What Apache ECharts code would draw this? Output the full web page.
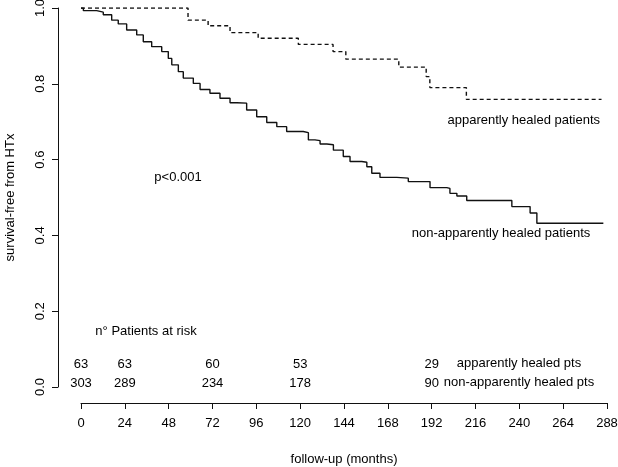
<!DOCTYPE html>
<html>
<head>
<meta charset="utf-8">
<script src="https://cdn.jsdelivr.net/npm/echarts@6/dist/echarts.min.js"></script>
<style>html,body{margin:0;padding:0;background:#fff}#c{width:618px;height:467px}</style>
</head>
<body>
<div id="c"></div>
<script>
// Apparently healed patients (dashed) – KM step points
const healedTime = [0, 58.6, 69.6, 81.6, 97, 119, 138, 145, 174, 189, 191, 211, 285];
const healedSurv = [1.0, 0.968, 0.953, 0.935, 0.920, 0.904, 0.885, 0.865, 0.844, 0.819, 0.790, 0.759, 0.759];

// Non-apparently healed patients (solid)
const nonTime = [0, 1.3, 8.6, 12.2, 16.8, 20.4, 25, 30.5, 34.1, 38.7, 44.2, 47.8, 49.7, 53.3, 56, 61.5, 65.2, 70.6, 76.1, 81.6, 85.3, 90.7, 96.2, 101.7, 107.2, 112.6, 121.7, 124.5, 128.1, 130.9, 134.6, 138.2, 143.6, 147.3, 153.7, 156.5, 159.2, 163.7, 172.9, 179.2, 191.1, 200.3, 202, 205.8, 211.2, 235.9, 245.9, 249.6, 286];
const nonSurv = [1.0, 0.993, 0.989, 0.982, 0.968, 0.958, 0.942, 0.929, 0.911, 0.898, 0.885, 0.867, 0.850, 0.832, 0.815, 0.801, 0.785, 0.775, 0.762, 0.750, 0.749, 0.731, 0.713, 0.698, 0.687, 0.674, 0.671, 0.652, 0.650, 0.641, 0.639, 0.625, 0.608, 0.595, 0.593, 0.581, 0.564, 0.553, 0.551, 0.542, 0.526, 0.524, 0.511, 0.504, 0.492, 0.476, 0.459, 0.432, 0.432];

// Numbers at risk
const riskTimes = [0, 24, 72, 120, 192];
const riskHealed = [63, 63, 60, 53, 29];
const riskNon = [303, 289, 234, 178, 90];
const riskRowY = [0.060, 0.010];

const xTicks = [0, 24, 48, 72, 96, 120, 144, 168, 192, 216, 240, 264, 288];
const yTicks = [0.0, 0.2, 0.4, 0.6, 0.8, 1.0];

const FONT = '"Liberation Sans", Arial, sans-serif';
const TXT = '#000';
const LINE = '#111';

const chart = echarts.init(document.getElementById('c'), null, {renderer: 'canvas'});
const riskSeries = (vals, y) => ({
  type: 'scatter',
  symbolSize: 0,
  silent: true,
  itemStyle: {color: 'transparent'},
  data: riskTimes.map((t, i) => [t, y, vals[i]]),
  label: {
    show: true, position: 'inside',
    formatter: p => String(p.data[2]),
    color: TXT, fontFamily: FONT, fontSize: 13,
    textBorderWidth: 0, opacity: 1
  }
});

chart.setOption({
  animation: false,
  backgroundColor: '#fff',
  grid: {left: 81, right: 11, top: 8, bottom: 80, containLabel: false, outerBoundsMode: 'none'},
  xAxis: {
    type: 'value', min: 0, max: 288, interval: 24, offset: 16,
    name: 'follow-up (months)', nameLocation: 'middle', nameGap: 50,
    nameTextStyle: {color: TXT, fontFamily: FONT, fontSize: 13},
    axisLine: {show: true, onZero: false, lineStyle: {color: LINE, width: 1}},
    axisTick: {show: true, length: 6, lineStyle: {color: LINE}},
    axisLabel: {color: TXT, fontFamily: FONT, fontSize: 13, margin: 14,
      formatter: v => xTicks.includes(v) ? String(v) : ''},
    splitLine: {show: false}
  },
  yAxis: {
    type: 'value', min: 0, max: 1, interval: 0.2, offset: 23,
    name: 'survival-free from HTx', nameLocation: 'middle', nameGap: 41,
    nameTextStyle: {color: TXT, fontFamily: FONT, fontSize: 13},
    axisLine: {show: true, onZero: false, lineStyle: {color: LINE, width: 1}},
    axisTick: {show: true, length: 6, lineStyle: {color: LINE}},
    axisLabel: {color: TXT, fontFamily: FONT, fontSize: 13, rotate: 90, margin: 11,
      formatter: v => yTicks.some(t => Math.abs(t - v) < 1e-9) ? v.toFixed(1) : ''},
    splitLine: {show: false}
  },
  series: [
    {
      type: 'line', step: 'end', showSymbol: false, silent: true,
      data: healedTime.map((t, i) => [t, healedSurv[i]]),
      lineStyle: {color: LINE, width: 1.4, type: [4, 3]}
    },
    {
      type: 'line', step: 'end', showSymbol: false, silent: true,
      data: nonTime.map((t, i) => [t, nonSurv[i]]),
      lineStyle: {color: LINE, width: 1.4}
    },
    riskSeries(riskHealed, riskRowY[0]),
    riskSeries(riskNon, riskRowY[1])
  ],
  graphic: [
    {type: 'text', x: 600, y: 120, style: {text: 'apparently healed patients', fill: TXT, font: '13px ' + FONT, textAlign: 'right', textVerticalAlign: 'middle'}},
    {type: 'text', x: 501, y: 233, style: {text: 'non-apparently healed patients', fill: TXT, font: '13px ' + FONT, textAlign: 'center', textVerticalAlign: 'middle'}},
    {type: 'text', x: 178, y: 177, style: {text: 'p<0.001', fill: TXT, font: '13px ' + FONT, textAlign: 'center', textVerticalAlign: 'middle'}},
    {type: 'text', x: 146, y: 331, style: {text: 'n° Patients at risk', fill: TXT, font: '13px ' + FONT, textAlign: 'center', textVerticalAlign: 'middle'}},
    {type: 'text', x: 519, y: 363, style: {text: 'apparently healed pts', fill: TXT, font: '13px ' + FONT, textAlign: 'center', textVerticalAlign: 'middle'}},
    {type: 'text', x: 519, y: 382, style: {text: 'non-apparently healed pts', fill: TXT, font: '13px ' + FONT, textAlign: 'center', textVerticalAlign: 'middle'}}
  ]
});
</script>
</body>
</html>
